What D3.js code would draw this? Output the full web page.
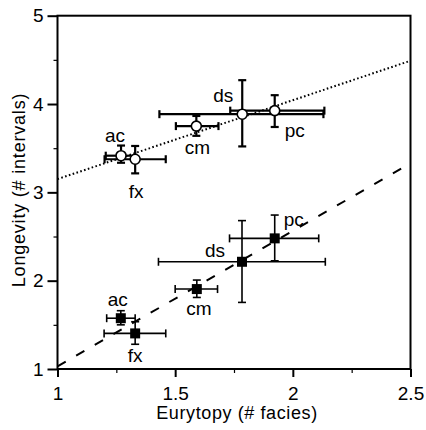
<!DOCTYPE html>
<html>
<head>
<meta charset="utf-8">
<script src="https://cdn.jsdelivr.net/npm/d3@7"></script>
<style>
  body { margin: 0; background: #fff; }
  text { font-family: "Liberation Sans", Arial, Helvetica, sans-serif; fill: #000; }
</style>
</head>
<body>
<svg id="chart"></svg>
<script>
// data
var species = ["ac", "fx", "cm", "ds", "pc"];

// open circles (upper group)
var upX    = [1.27, 1.33, 1.59, 1.785, 1.923];
var upXlo  = [1.205, 1.20, 1.503, 1.433, 1.734];
var upXhi  = [1.33, 1.46, 1.684, 2.13, 2.134];
var upY    = [3.415, 3.375, 3.75, 3.885, 3.925];
var upYlo  = [3.335, 3.215, 3.64, 3.52, 3.74];
var upYhi  = [3.53, 3.525, 3.865, 4.27, 4.10];

// filled squares (lower group)
var loX    = [1.269, 1.33, 1.592, 1.784, 1.923];
var loXlo  = [1.209, 1.198, 1.50, 1.429, 1.731];
var loXhi  = [1.33, 1.46, 1.68, 2.138, 2.11];
var loY    = [1.575, 1.403, 1.905, 2.214, 2.479];
var loYlo  = [1.50, 1.28, 1.81, 1.754, 2.225];
var loYhi  = [1.66, 1.535, 2.007, 2.68, 2.743];

// fitted lines, endpoints
var upFit = [[1, 3.15], [2.5, 4.49]];
var loFit = [[1, 1.03], [2.5, 3.33]];

var xTicks = [1, 1.5, 2, 2.5];
var xTickLabels = ["1", "1.5", "2", "2.5"];
var yTicks = [1, 2, 3, 4, 5];

var xTitle = "Eurytopy (# facies)";
var yTitle = "Longevity (# intervals)";

// label offsets in pixels (dx, dy to baseline)
var upLabelOff = {ac: [-6, -14], fx: [1, 39], cm: [1, 28], ds: [-19, -12], pc: [20, 26]};
var loLabelOff = {ac: [-3, -12], fx: [0, 29], cm: [2, 26], ds: [-27, -5], pc: [19, -12]};

var W = 426, H = 430;
var svg = d3.select("#chart").attr("width", W).attr("height", H);

var x = d3.scaleLinear().domain([1, 2.5]).range([57.5, 410.5]);
var y = d3.scaleLinear().domain([1, 5]).range([369, 15.7]);

function rows(X, Xlo, Xhi, Y, Ylo, Yhi) {
    return species.map(function (s, i) {
        return {name: s, x: X[i], xlo: Xlo[i], xhi: Xhi[i], y: Y[i], ylo: Ylo[i], yhi: Yhi[i]};
    });
}
var upper = rows(upX, upXlo, upXhi, upY, upYlo, upYhi);
var lower = rows(loX, loXlo, loXhi, loY, loYlo, loYhi);

// frame
svg.append("rect")
    .attr("x", x(1)).attr("y", y(5))
    .attr("width", x(2.5) - x(1)).attr("height", y(1) - y(5))
    .attr("fill", "none").attr("stroke", "#000").attr("stroke-width", 2);

// axes
var xAxis = d3.axisBottom(x).tickValues(xTicks)
    .tickFormat(function (d, i) { return xTickLabels[i]; })
    .tickSize(8).tickPadding(10);
var gx = svg.append("g").attr("transform", "translate(0," + y(1) + ")").call(xAxis);
gx.select(".domain").remove();
gx.selectAll("line").attr("stroke-width", 2);
gx.selectAll("text").style("font-size", "19px");

var xMinor = d3.axisBottom(x).tickValues([1.25, 1.75, 2.25]).tickSize(4).tickFormat("");
var gxm = svg.append("g").attr("transform", "translate(0," + y(1) + ")").call(xMinor);
gxm.select(".domain").remove();
gxm.selectAll("line").attr("stroke-width", 1.2);

var yAxis = d3.axisLeft(y).tickValues(yTicks).tickFormat(d3.format("d"))
    .tickSize(10).tickPadding(4);
var gy = svg.append("g").attr("transform", "translate(" + x(1) + ",0)").call(yAxis);
gy.select(".domain").remove();
gy.selectAll("line").attr("stroke-width", 2);
gy.selectAll("text").style("font-size", "19px");

var yMinor = d3.axisLeft(y).tickValues([1.5, 2.5, 3.5, 4.5]).tickSize(4).tickFormat("");
var gym = svg.append("g").attr("transform", "translate(" + x(1) + ",0)").call(yMinor);
gym.select(".domain").remove();
gym.selectAll("line").attr("stroke-width", 1.2);

// axis titles
svg.append("text")
    .attr("x", 237).attr("y", 419)
    .attr("text-anchor", "middle")
    .style("font-size", "18px").style("letter-spacing", "0.6px")
    .text(xTitle);
svg.append("text")
    .attr("transform", "translate(25,190) rotate(-90)")
    .attr("text-anchor", "middle")
    .style("font-size", "18px").style("letter-spacing", "0.8px")
    .text(yTitle);

// fit lines
var line = d3.line().x(function (d) { return x(d[0]); }).y(function (d) { return y(d[1]); });
svg.append("path").datum(upFit).attr("d", line)
    .attr("fill", "none").attr("stroke", "#000").attr("stroke-width", 2)
    .attr("stroke-dasharray", "1.6,2.4");
svg.append("path").datum(loFit).attr("d", line)
    .attr("fill", "none").attr("stroke", "#000").attr("stroke-width", 2)
    .attr("stroke-dasharray", "9.5,12");

// error bars
function errorBars(data, cls, sw) {
    var cap = 4;
    var g = svg.append("g").attr("class", cls).attr("stroke", "#000").attr("stroke-width", sw);
    data.forEach(function (d) {
        g.append("line").attr("x1", x(d.xlo)).attr("x2", x(d.xhi)).attr("y1", y(d.y)).attr("y2", y(d.y));
        g.append("line").attr("x1", x(d.xlo)).attr("x2", x(d.xlo)).attr("y1", y(d.y) - cap).attr("y2", y(d.y) + cap);
        g.append("line").attr("x1", x(d.xhi)).attr("x2", x(d.xhi)).attr("y1", y(d.y) - cap).attr("y2", y(d.y) + cap);
        g.append("line").attr("x1", x(d.x)).attr("x2", x(d.x)).attr("y1", y(d.ylo)).attr("y2", y(d.yhi));
        g.append("line").attr("x1", x(d.x) - cap).attr("x2", x(d.x) + cap).attr("y1", y(d.ylo)).attr("y2", y(d.ylo));
        g.append("line").attr("x1", x(d.x) - cap).attr("x2", x(d.x) + cap).attr("y1", y(d.yhi)).attr("y2", y(d.yhi));
    });
}
errorBars(upper, "err-up", 2.2);
errorBars(lower, "err-lo", 1.6);

// markers
svg.selectAll(".sq").data(lower).enter().append("rect")
    .attr("class", "sq")
    .attr("x", function (d) { return x(d.x) - 5; })
    .attr("y", function (d) { return y(d.y) - 5; })
    .attr("width", 10).attr("height", 10)
    .attr("fill", "#000");
svg.selectAll(".circ").data(upper).enter().append("circle")
    .attr("class", "circ")
    .attr("cx", function (d) { return x(d.x); })
    .attr("cy", function (d) { return y(d.y); })
    .attr("r", 5)
    .attr("fill", "#fff").attr("stroke", "#000").attr("stroke-width", 1.6);

// point labels
function labels(data, off, cls) {
    svg.selectAll("." + cls).data(data).enter().append("text")
        .attr("class", cls)
        .attr("x", function (d) { return x(d.x) + off[d.name][0]; })
        .attr("y", function (d) { return y(d.y) + off[d.name][1]; })
        .attr("text-anchor", "middle")
        .style("font-size", "19px")
        .text(function (d) { return d.name; });
}
labels(upper, upLabelOff, "lab-up");
labels(lower, loLabelOff, "lab-lo");
</script>
</body>
</html>
